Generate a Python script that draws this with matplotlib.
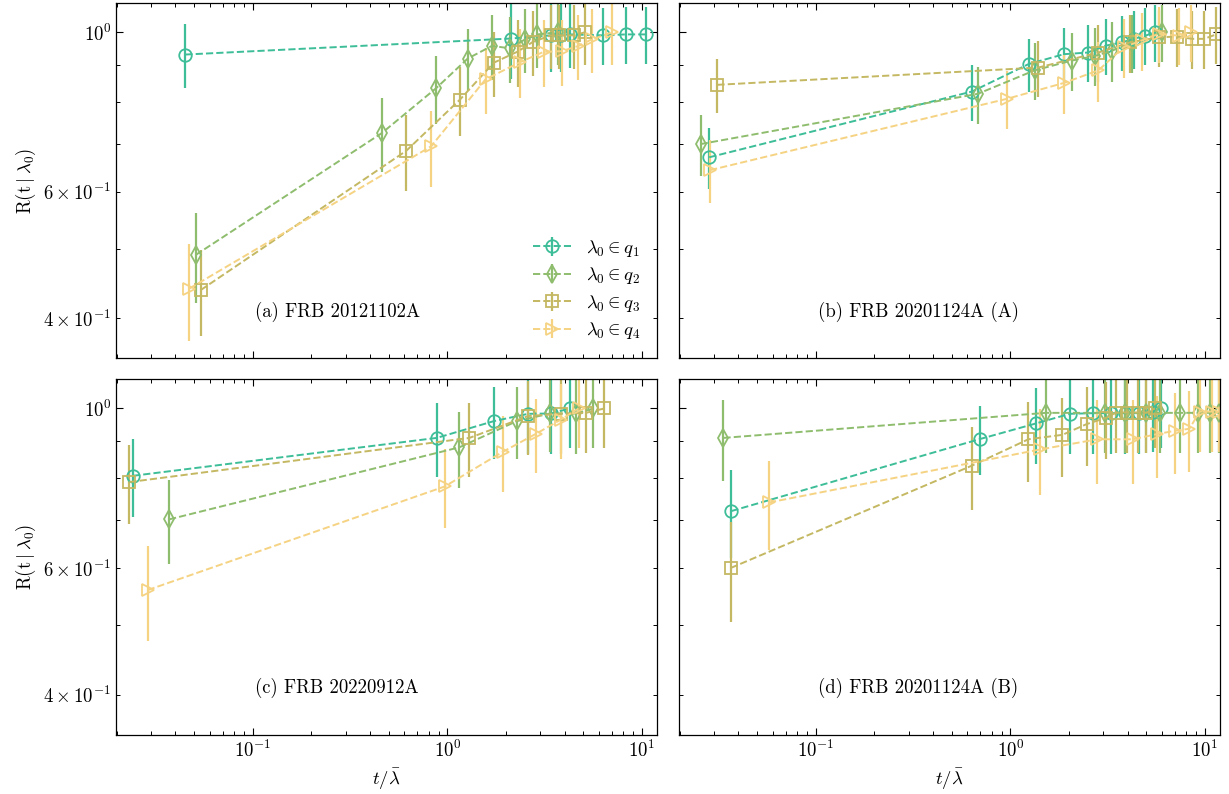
import matplotlib

matplotlib.use("Agg")
import matplotlib.pyplot as plt

plt.rcParams.update({
    "font.family": "serif",
    "font.serif": ["cmr10"],
    "mathtext.fontset": "cm",
    "axes.unicode_minus": False,
    "axes.formatter.use_mathtext": True,
    "font.size": 13.5,
    "xtick.direction": "in",
    "ytick.direction": "in",
    "xtick.top": True,
    "ytick.right": True,
    "xtick.major.size": 5,
    "ytick.major.size": 5,
    "xtick.minor.size": 2.6,
    "ytick.minor.size": 2.6,
    "xtick.major.width": 0.8,
    "ytick.major.width": 0.8,
    "xtick.minor.width": 0.7,
    "ytick.minor.width": 0.7,
    "axes.linewidth": 0.9,
})

# ---- data: t / lambda_bar, R(t | lambda_0), error ----
# (a) FRB 20121102A
a_q1_x = [0.045, 2.12, 3.41, 3.84, 4.25, 6.31, 8.25, 10.45]
a_q1_y = [0.931, 0.98, 0.99, 0.99, 0.993, 0.99, 0.993, 0.993]
a_q1_e = [0.095, 0.12, 0.11, 0.11, 0.10, 0.09, 0.09, 0.09]
a_q2_x = [0.0508, 0.46, 0.875, 1.27, 1.69, 2.09, 2.5, 2.9, 3.71]
a_q2_y = [0.49, 0.724, 0.836, 0.919, 0.957, 0.95, 0.977, 0.993, 1.0]
a_q2_e = [0.07, 0.085, 0.09, 0.09, 0.10, 0.10, 0.10, 0.10, 0.10]
a_q3_x = [0.054, 0.614, 1.16, 1.73, 2.3, 2.74, 3.4, 3.75, 4.48, 5.1]
a_q3_y = [0.438, 0.684, 0.806, 0.907, 0.94, 0.969, 0.99, 0.99, 0.99, 1.0]
a_q3_e = [0.06, 0.083, 0.088, 0.095, 0.10, 0.10, 0.10, 0.10, 0.10, 0.10]
a_q4_x = [0.0471, 0.825, 1.57, 2.37, 3.12, 3.86, 4.71, 5.5, 7.04]
a_q4_y = [0.44, 0.694, 0.86, 0.909, 0.939, 0.941, 0.957, 0.977, 1.0]
a_q4_e = [0.068, 0.084, 0.09, 0.10, 0.10, 0.10, 0.10, 0.10, 0.10]

# (b) FRB 20201124A (A)
b_q1_x = [0.0283, 0.634, 1.24, 1.88, 2.49, 3.09, 3.74, 4.29, 4.93, 5.56]
b_q1_y = [0.67, 0.827, 0.903, 0.932, 0.937, 0.958, 0.968, 0.979, 0.989, 1.0]
b_q1_e = [0.065, 0.074, 0.076, 0.08, 0.085, 0.085, 0.085, 0.09, 0.09, 0.09]
b_q2_x = [0.0256, 0.68, 1.33, 2.06, 2.72, 3.31, 4.2, 6.0]
b_q2_y = [0.699, 0.821, 0.885, 0.913, 0.927, 0.942, 0.968, 1.0]
b_q2_e = [0.067, 0.075, 0.08, 0.085, 0.085, 0.09, 0.09, 0.09]
b_q3_x = [0.0312, 1.39, 2.83, 4.12, 5.79, 7.2, 8.6, 9.9, 11.4]
b_q3_y = [0.845, 0.893, 0.937, 0.968, 0.984, 0.986, 0.979, 0.979, 0.993]
b_q3_e = [0.072, 0.08, 0.085, 0.09, 0.09, 0.09, 0.09, 0.09, 0.09]
b_q4_x = [0.0286, 0.96, 1.88, 2.83, 3.81, 4.74, 5.79, 7.33, 8.45]
b_q4_y = [0.643, 0.808, 0.85, 0.885, 0.953, 0.974, 0.995, 0.989, 1.0]
b_q4_e = [0.065, 0.075, 0.08, 0.085, 0.09, 0.09, 0.09, 0.09, 0.09]

# (c) FRB 20220912A
c_q1_x = [0.0242, 0.881, 1.727, 2.60, 3.4, 4.26]
c_q1_y = [0.806, 0.910, 0.960, 0.983, 0.984, 1.0]
c_q1_e = [0.10, 0.107, 0.11, 0.12, 0.12, 0.12]
c_q2_x = [0.0371, 1.152, 2.27, 3.36, 4.57, 5.63]
c_q2_y = [0.701, 0.883, 0.960, 0.984, 0.984, 1.0]
c_q2_e = [0.094, 0.107, 0.11, 0.115, 0.12, 0.12]
c_q3_x = [0.0232, 1.297, 2.60, 3.83, 5.14, 6.41]
c_q3_y = [0.790, 0.910, 0.976, 0.983, 0.986, 1.0]
c_q3_e = [0.10, 0.108, 0.115, 0.12, 0.12, 0.12]
c_q4_x = [0.0288, 0.969, 1.92, 2.85, 3.83, 4.72]
c_q4_y = [0.559, 0.779, 0.870, 0.922, 0.965, 1.0]
c_q4_e = [0.084, 0.098, 0.105, 0.11, 0.115, 0.12]

# (d) FRB 20201124A (B)
d_q1_x = [0.0368, 0.70, 1.35, 2.02, 2.67, 3.3, 3.9, 4.6, 5.4, 5.97]
d_q1_y = [0.72, 0.907, 0.953, 0.983, 0.985, 0.985, 0.985, 0.985, 0.99, 1.0]
d_q1_e = [0.10, 0.10, 0.115, 0.12, 0.12, 0.12, 0.12, 0.12, 0.12, 0.12]
d_q2_x = [0.0335, 1.52, 3.05, 3.9, 5.0, 5.9, 7.4, 9.2, 10.6, 11.8]
d_q2_y = [0.91, 0.986, 0.986, 0.986, 0.986, 0.986, 0.986, 0.986, 0.986, 0.986]
d_q2_e = [0.118, 0.12, 0.12, 0.12, 0.12, 0.12, 0.12, 0.12, 0.12, 0.12]
d_q3_x = [0.0365, 0.636, 1.236, 1.85, 2.46, 3.08, 3.5, 3.95, 4.5, 5.0, 5.52]
d_q3_y = [0.60, 0.833, 0.906, 0.919, 0.951, 0.97, 0.987, 0.987, 0.987, 0.987, 1.0]
d_q3_e = [0.095, 0.11, 0.115, 0.115, 0.12, 0.12, 0.12, 0.12, 0.12, 0.12, 0.12]
d_q4_x = [0.0574, 1.42, 2.8, 4.25, 5.65, 7.0, 8.3, 9.4, 10.8, 11.8]
d_q4_y = [0.74, 0.877, 0.906, 0.906, 0.921, 0.931, 0.937, 0.99, 0.99, 0.99]
d_q4_e = [0.105, 0.12, 0.12, 0.12, 0.12, 0.12, 0.12, 0.12, 0.12, 0.12]

panel_titles = ["(a) FRB 20121102A", "(b) FRB 20201124A (A)",
                "(c) FRB 20220912A", "(d) FRB 20201124A (B)"]
series_labels = [r"$\lambda_0 \in q_1$", r"$\lambda_0 \in q_2$",
                 r"$\lambda_0 \in q_3$", r"$\lambda_0 \in q_4$"]
colors = ["#3dbe98", "#8fbd6e", "#c4b862", "#f5d383"]
markers = ["o", "d", "s", ">"]

panels = [
    [(a_q1_x, a_q1_y, a_q1_e), (a_q2_x, a_q2_y, a_q2_e), (a_q3_x, a_q3_y, a_q3_e), (a_q4_x, a_q4_y, a_q4_e)],
    [(b_q1_x, b_q1_y, b_q1_e), (b_q2_x, b_q2_y, b_q2_e), (b_q3_x, b_q3_y, b_q3_e), (b_q4_x, b_q4_y, b_q4_e)],
    [(c_q1_x, c_q1_y, c_q1_e), (c_q2_x, c_q2_y, c_q2_e), (c_q3_x, c_q3_y, c_q3_e), (c_q4_x, c_q4_y, c_q4_e)],
    [(d_q1_x, d_q1_y, d_q1_e), (d_q2_x, d_q2_y, d_q2_e), (d_q3_x, d_q3_y, d_q3_e), (d_q4_x, d_q4_y, d_q4_e)],
]

fig, axes = plt.subplots(2, 2, figsize=(12.29, 7.94), dpi=100, sharex=True, sharey=True)
fig.subplots_adjust(left=0.0944, right=0.9927, top=0.9962, bottom=0.0749,
                    wspace=0.0407, hspace=0.059)

for ax, series, title in zip(axes.flat, panels, panel_titles):
    for (x, y, e), c, m, lab in zip(series, colors, markers, series_labels):
        ax.errorbar(x, y, yerr=e, fmt=m, ls="--", lw=1.4, color=c,
                    mfc="none", mec=c, ms=9, mew=1.3, elinewidth=1.6,
                    capsize=0, label=lab)
    ax.text(0.257, 0.13, title, transform=ax.transAxes, ha="left", va="center")

ax0 = axes[0, 0]
ax0.set_xscale("log")
ax0.set_yscale("log")
ax0.set_xlim(0.0198, 11.94)
ax0.set_ylim(0.352, 1.098)

for ax in axes[:, 0]:
    ax.set_ylabel(r"$\mathrm{R}(\mathrm{t}\mid\lambda_0)$")
for ax in axes[1, :]:
    ax.set_xlabel(r"$t/\bar{\lambda}$")

# legend a little tighter than the default row spacing
ax0.legend(loc="lower right", frameon=False, labelspacing=0.35)

fig.savefig("out.png", dpi=100)
